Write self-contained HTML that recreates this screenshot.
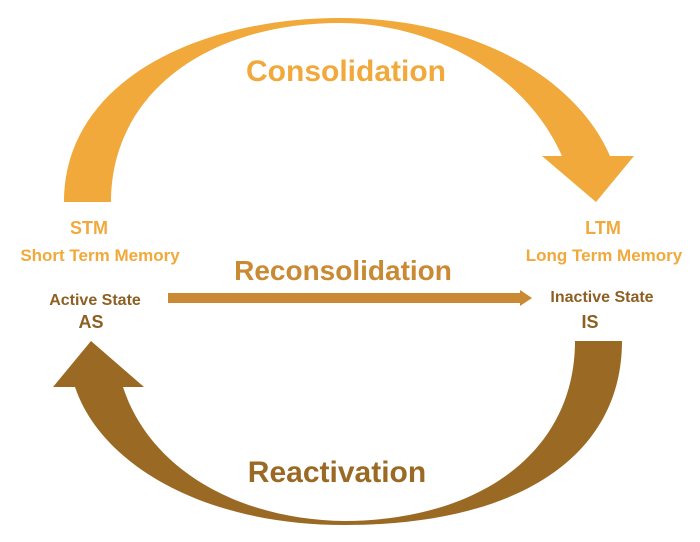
<!DOCTYPE html>
<html><head><meta charset="utf-8"><style>
html,body{margin:0;padding:0;background:#fff;}
svg{display:block}
text{font-family:"Liberation Sans",sans-serif;font-weight:bold;text-anchor:middle}
</style></head><body>
<svg width="700" height="542" viewBox="0 0 700 542" xmlns="http://www.w3.org/2000/svg">
<rect width="700" height="542" fill="#fff"/>
<path d="M64,202 C64,80 200,18 340,18 C470,18 575,75 610,156 L634,156 L596,202 L542,156 L562,156 C525,72 430,23 340,23 C205,23 111,95 111,202 Z" fill="#F0A93A"/>
<path d="M622,341 C622,455 520,525 345,525 C200,525 100,462 75,387 L53,387 L91,341 L144,387 L123,387 C150,470 240,520 345,521 C480,520 575,452 575,341 Z" fill="#9A6A24"/>
<path d="M168,293 L520,293 L520,290 L532,298 L520,306 L520,303 L168,303 Z" fill="#C98A33"/>
<text x="346" y="81" font-size="30" fill="#F0A93A">Consolidation</text>
<text x="343" y="280" font-size="28" fill="#C98A33">Reconsolidation</text>
<text x="337" y="482" font-size="30" fill="#9A6A24">Reactivation</text>
<text x="89" y="234" font-size="18" fill="#F0A93A">STM</text>
<text x="100" y="261" font-size="17" fill="#F0A93A">Short Term Memory</text>
<text x="603" y="234" font-size="18" fill="#F0A93A">LTM</text>
<text x="604" y="261" font-size="17" fill="#F0A93A">Long Term Memory</text>
<text x="95" y="305" font-size="16" fill="#8E5F22">Active State</text>
<text x="91" y="328" font-size="18" fill="#8E5F22">AS</text>
<text x="602" y="302" font-size="16" fill="#8E5F22">Inactive State</text>
<text x="590" y="328" font-size="18" fill="#8E5F22">IS</text>
</svg>
</body></html>
